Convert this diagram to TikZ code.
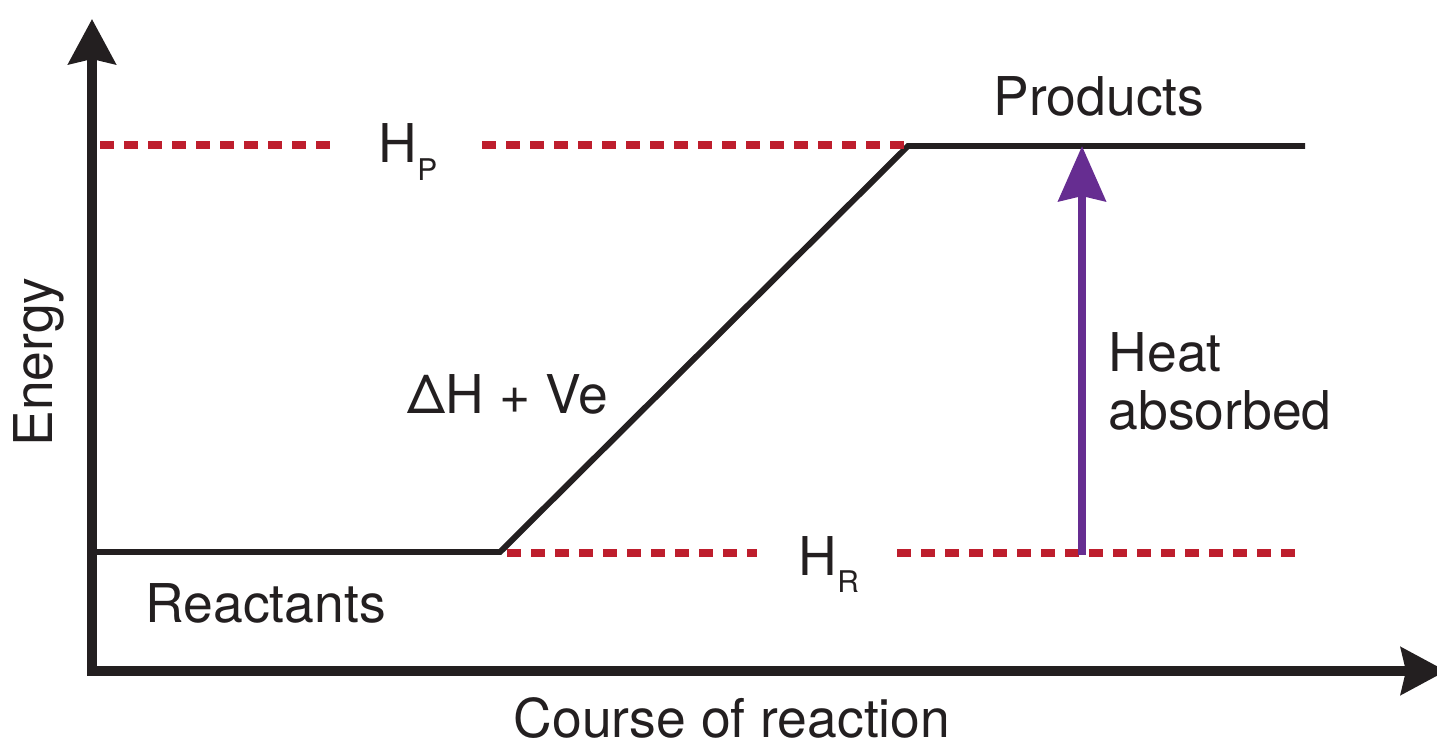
\documentclass[tikz,border=0pt]{standalone}
\usepackage{fontspec}
\setmainfont{TeX Gyre Heros}
\usepackage{xcolor}
\usetikzlibrary{arrows.meta}
\definecolor{levelred}{HTML}{BE1E2D}
\definecolor{heatpurple}{HTML}{662D91}
\definecolor{inkblack}{HTML}{231F20}
\newcommand{\enth}[1]{H\raisebox{-0.17cm}{\fontsize{8.5}{9}\selectfont #1}}

\begin{document}
\begin{tikzpicture}[x=0.01cm,y=-0.01cm,
    axis/.style={draw=inkblack,line width=2.6pt,-{Stealth[length=0.45cm,width=0.47cm,inset=0.05cm]}},
    path line/.style={draw=inkblack,line width=1.7pt,line join=miter},
    level/.style={draw=levelred,line width=2.3pt,dash pattern=on 0.14cm off 0.10cm},
    heat/.style={draw=heatpurple,line width=2.4pt,-{Stealth[length=0.55cm,width=0.47cm,inset=0.05cm]}},
    label/.style={inner sep=0pt,text=inkblack,font=\fontsize{15.2}{16.5}\selectfont}]
      \useasboundingbox (0,0) rectangle (1437,746);

      % axes
      \coordinate (origin) at (92,671);
      \coordinate (ytop) at (92,19);
      \coordinate (xend) at (1446,671);
      \draw[axis] ([yshift=-0.045cm]origin) -- (ytop);
      \draw[axis] ([xshift=-0.045cm]origin) -- (xend);

      % reaction path
      \coordinate (r0) at (97,552);
      \coordinate (r1) at (500,552);
      \coordinate (p0) at (908,146);
      \coordinate (p1) at (1305,146);
      \draw[path line] (r0) -- (r1) -- (p0) -- (p1);

      % enthalpy levels
      \node[label,anchor=base west] (hp) at (378,163) {\enth{P}};
      \node[label,anchor=base west] (hr) at (798,575) {\enth{R}};
      \coordinate (hpA) at (100,145);
      \coordinate (hpB) at (338,145);
      \coordinate (hpC) at (482,145);
      \coordinate (hpD) at (905,145);
      \coordinate (hrA) at (507,553);
      \coordinate (hrB) at (757,553);
      \coordinate (hrC) at (897,553);
      \coordinate (hrD) at (1301,553);
      \draw[level] (hpA) -- (hpB);
      \draw[level] (hpC) -- (hpD);
      \draw[level] (hrA) -- (hrB);
      \draw[level] (hrC) -- (hrD);

      % heat arrow
      \coordinate (hbase) at (1082,555);
      \coordinate (htip) at (1082,146);
      \draw[heat] (hbase) -- (htip);

      % labels
      \node[label,anchor=base west] (prod) at (993,116) {Products};
      \node[label,anchor=north west,align=left] (heatlbl) at (1108,332) {Heat\\absorbed};
      \node[label,anchor=base west] (dH) at (407,413) {ΔH + Ve};
      \node[label,anchor=base west] (react) at (145,622) {Reactants};
      \node[label,anchor=base,rotate=90] (energy) at (52,362) {Energy};
      \node[label,anchor=base west] (course) at (513,737) {Course of reaction};
\end{tikzpicture}
\end{document}
